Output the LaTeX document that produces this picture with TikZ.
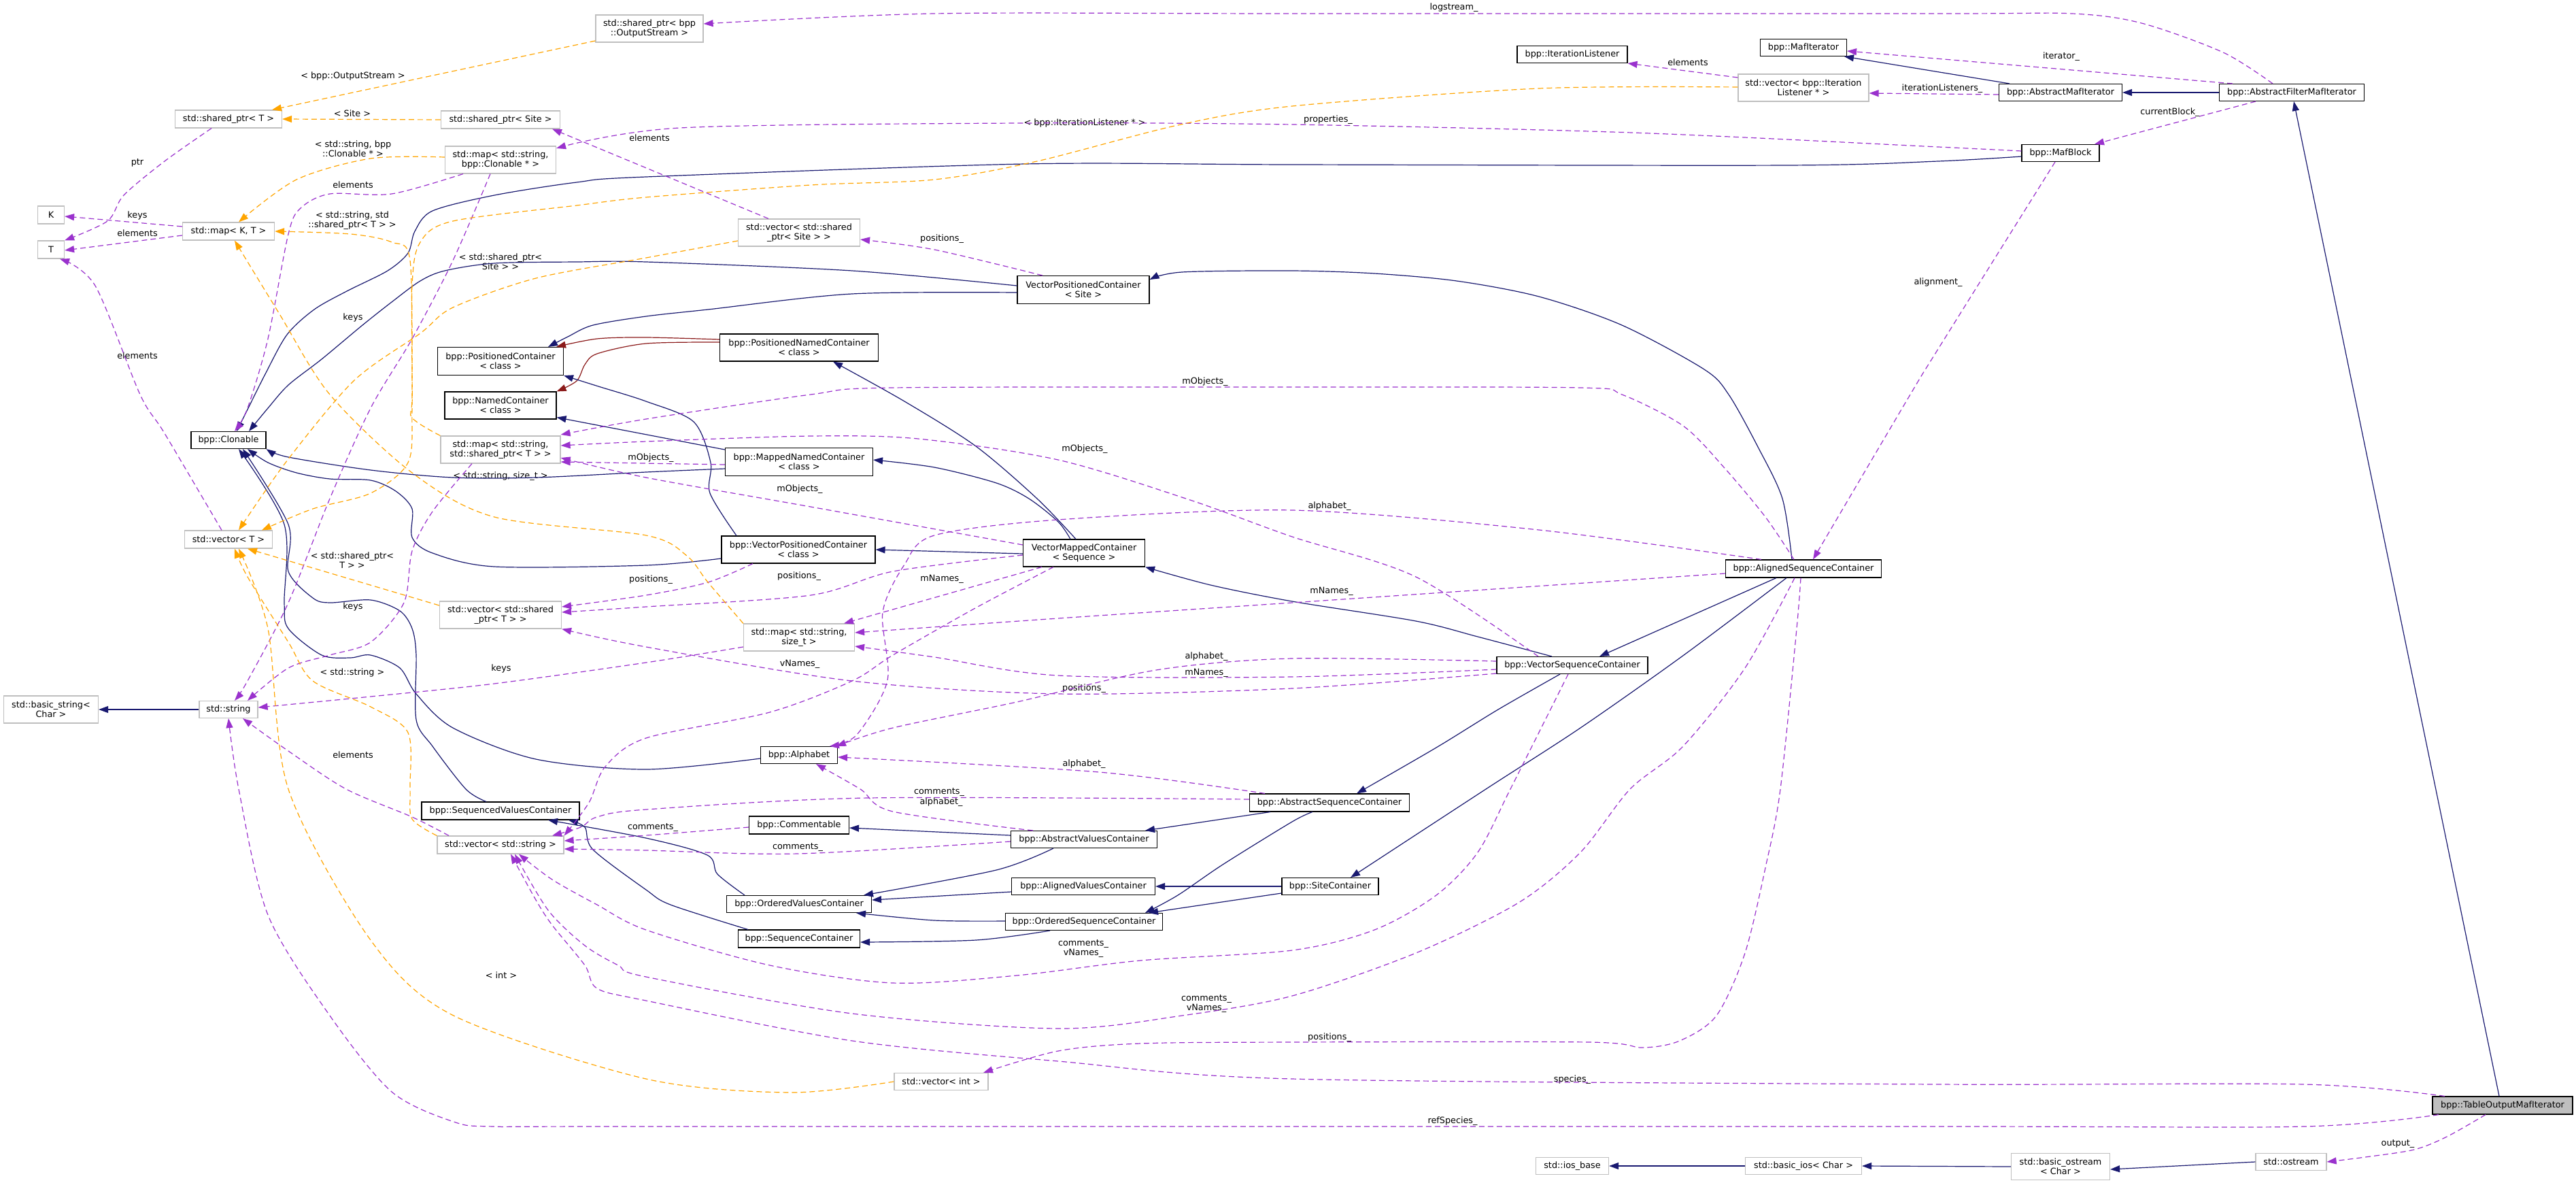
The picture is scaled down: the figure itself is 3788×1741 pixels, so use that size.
\documentclass[tikz,border=0pt]{standalone}
\usepackage{fontspec}
\setmainfont{DejaVu Sans}
\usetikzlibrary{arrows.meta}
\definecolor{navy}{HTML}{191970}
\definecolor{firebrick}{HTML}{8B1A1A}
\definecolor{orchid}{HTML}{9A32CD}
\definecolor{orng}{HTML}{FFA500}
\definecolor{gborder}{HTML}{BFBFBF}
\definecolor{hifill}{HTML}{BFBFBF}
\begin{document}
\begin{tikzpicture}[x=1pt,y=-1pt,
 every node/.style={font=\fontsize{12.8pt}{14pt}\selectfont, inner sep=0pt, align=center},
 box/.style={draw=black, line width=1.1pt, fill=white},
 gbox/.style={draw=gborder, line width=1.2pt, fill=white},
 lbl/.style={},
 tip/.style={-{Triangle[length=14pt,width=10pt]}},
 inh/.style={tip, draw=navy, line width=1.2pt},
 prot/.style={tip, draw=firebrick, line width=1.2pt},
 use/.style={tip, draw=orchid, line width=1.2pt, dash pattern=on 8pt off 5pt},
 tmpl/.style={tip, draw=orng, line width=1.2pt, dash pattern=on 8pt off 5pt},
 every plot/.style={smooth, tension=0.5}]
\useasboundingbox (0,0) rectangle (3788,1741);
\fill[white] (0,0) rectangle (3788,1741);

% ---------- nodes ----------
\node[gbox, minimum width=158pt, minimum height=40pt] (spOS) at (955,42) {std::shared\_ptr< bpp\\::OutputStream >};
\node[gbox, minimum width=157pt, minimum height=26pt] (spT) at (336,175) {std::shared\_ptr< T >};
\node[gbox, minimum width=175pt, minimum height=26pt] (spSite) at (736,176) {std::shared\_ptr< Site >};
\node[gbox, minimum width=163pt, minimum height=40pt] (mapSC) at (736,235) {std::map< std::string,\\bpp::Clonable * >};
\node[gbox, minimum width=39pt, minimum height=26pt] (K) at (75,316) {K};
\node[gbox, minimum width=39pt, minimum height=26pt] (T) at (75,367) {T};
\node[gbox, minimum width=135pt, minimum height=26pt] (mapKT) at (336,340) {std::map< K, T >};
\node[box, minimum width=185pt, minimum height=41pt] (posC) at (736,531) {bpp::PositionedContainer\\< class >};
\node[box, minimum width=164pt, minimum height=40pt] (namedC) at (736,596) {bpp::NamedContainer\\< class >};
\node[gbox, minimum width=179pt, minimum height=40pt] (vspSite) at (1175,342) {std::vector< std::shared\\\_ptr< Site > >};
\node[box, minimum width=194pt, minimum height=41pt] (vpcSite) at (1593,426) {VectorPositionedContainer\\< Site >};
\node[box, minimum width=233pt, minimum height=40pt] (pnc) at (1175,511) {bpp::PositionedNamedContainer\\< class >};
\node[box, minimum width=162pt, minimum height=25pt] (iterL) at (2312,80) {bpp::IterationListener};
\node[box, minimum width=127pt, minimum height=25pt] (mafIt) at (2652,70) {bpp::MafIterator};
\node[gbox, minimum width=192pt, minimum height=40pt] (vIL) at (2652,129) {std::vector< bpp::Iteration\\Listener * >};
\node[box, minimum width=181pt, minimum height=25pt] (absMaf) at (3030,136) {bpp::AbstractMafIterator};
\node[box, minimum width=213pt, minimum height=25pt] (afmi) at (3370,136) {bpp::AbstractFilterMafIterator};
\node[box, minimum width=114pt, minimum height=25pt] (mafBlock) at (3030,225) {bpp::MafBlock};
\node[box, minimum width=110pt, minimum height=25pt] (clonable) at (336,647) {bpp::Clonable};
\node[gbox, minimum width=176pt, minimum height=40pt] (mapSspT) at (736,661) {std::map< std::string,\\std::shared\_ptr< T > >};
\node[gbox, minimum width=129pt, minimum height=26pt] (vecT) at (336,793) {std::vector< T >};
\node[gbox, minimum width=179pt, minimum height=40pt] (vspT) at (736,904) {std::vector< std::shared\\\_ptr< T > >};
\node[gbox, minimum width=86pt, minimum height=25pt] (string) at (336,1043) {std::string};
\node[gbox, minimum width=139pt, minimum height=40pt] (basicStr) at (75,1043) {std::basic\_string<\\Char >};
\node[box, minimum width=217pt, minimum height=41pt] (mnc) at (1175,679) {bpp::MappedNamedContainer\\< class >};
\node[box, minimum width=226pt, minimum height=40pt] (vpcClass) at (1174,808) {bpp::VectorPositionedContainer\\< class >};
\node[box, minimum width=179pt, minimum height=40pt] (vmc) at (1594,813) {VectorMappedContainer\\< Sequence >};
\node[gbox, minimum width=163pt, minimum height=40pt] (mapSsize) at (1175,937) {std::map< std::string,\\size\_t >};
\node[box, minimum width=113pt, minimum height=25pt] (alphabet) at (1175,1110) {bpp::Alphabet};
\node[box, minimum width=229pt, minimum height=26pt] (asc) at (2652,836) {bpp::AlignedSequenceContainer};
\node[box, minimum width=222pt, minimum height=25pt] (vsc) at (2312,978) {bpp::VectorSequenceContainer};
\node[box, minimum width=235pt, minimum height=26pt] (absSeq) at (1955,1180) {bpp::AbstractSequenceContainer};
\node[box, minimum width=232pt, minimum height=26pt] (svc) at (736,1192) {bpp::SequencedValuesContainer};
\node[gbox, minimum width=186pt, minimum height=26pt] (vecStr) at (736,1242) {std::vector< std::string >};
\node[box, minimum width=147pt, minimum height=26pt] (commentable) at (1175,1213) {bpp::Commentable};
\node[box, minimum width=215pt, minimum height=25pt] (avc) at (1594,1234) {bpp::AbstractValuesContainer};
\node[box, minimum width=211pt, minimum height=25pt] (alignedVC) at (1593,1303) {bpp::AlignedValuesContainer};
\node[box, minimum width=213pt, minimum height=25pt] (ovc) at (1175,1329) {bpp::OrderedValuesContainer};
\node[box, minimum width=231pt, minimum height=25pt] (osc) at (1594,1355) {bpp::OrderedSequenceContainer};
\node[box, minimum width=179pt, minimum height=26pt] (seqC) at (1175,1380) {bpp::SequenceContainer};
\node[gbox, minimum width=138pt, minimum height=25pt] (vecInt) at (1384,1590) {std::vector< int >};
\node[box, minimum width=142pt, minimum height=25pt] (siteC) at (1956,1303) {bpp::SiteContainer};
\node[gbox, minimum width=107pt, minimum height=25pt] (iosBase) at (2312,1714) {std::ios\_base};
\node[gbox, minimum width=171pt, minimum height=25pt] (basicIos) at (2652,1714) {std::basic\_ios< Char >};
\node[box, fill=hifill, minimum width=206pt, minimum height=26pt] (table) at (3680,1625) {bpp::TableOutputMafIterator};
\node[gbox, minimum width=145pt, minimum height=39pt] (basicOs) at (3030,1715) {std::basic\_ostream\\< Char >};
\node[gbox, minimum width=104pt, minimum height=25pt] (ostream) at (3369,1708) {std::ostream};

% ---------- labels ----------
\node[lbl] (l1) at (2138,11) {logstream\_};
\node[lbl] (l2) at (519,112) {< bpp::OutputStream >};
\node[lbl] (l3) at (3031,83) {iterator\_};
\node[lbl] (l4) at (2482,92) {elements};
\node[lbl] (l5) at (2856,130) {iterationListeners\_};
\node[lbl] (l6) at (3191,165) {currentBlock\_};
\node[lbl] (l7) at (518,167) {< Site >};
\node[lbl] (l8) at (1595,181) {< bpp::IterationListener * >};
\node[lbl] (l9) at (1953,176) {properties\_};
\node[lbl] (l10) at (955,203) {elements};
\node[lbl] (l11) at (519,219) {< std::string, bpp\\::Clonable * >};
\node[lbl] (l12) at (202,239) {ptr};
\node[lbl] (l13) at (519,272) {elements};
\node[lbl] (l14) at (202,317) {keys};
\node[lbl] (l15) at (518,324) {< std::string, std\\::shared\_ptr< T > >};
\node[lbl] (l16) at (202,343) {elements};
\node[lbl] (l17) at (1385,351) {positions\_};
\node[lbl] (l18) at (736,385) {< std::shared\_ptr<\\Site > >};
\node[lbl] (l19) at (2850,415) {alignment\_};
\node[lbl] (l20) at (519,467) {keys};
\node[lbl] (l21) at (202,523) {elements};
\node[lbl] (l22) at (1772,561) {mObjects\_};
\node[lbl] (l23) at (1595,660) {mObjects\_};
\node[lbl] (l24) at (957,673) {mObjects\_};
\node[lbl] (l25) at (736,700) {< std::string, size\_t >};
\node[lbl] (l26) at (1176,719) {mObjects\_};
\node[lbl] (l27) at (1955,744) {alphabet\_};
\node[lbl] (l28) at (518,824) {< std::shared\_ptr<\\T > >};
\node[lbl] (l29) at (1175,847) {positions\_};
\node[lbl] (l30) at (1385,851) {mNames\_};
\node[lbl] (l31) at (957,852) {positions\_};
\node[lbl] (l32) at (1958,869) {mNames\_};
\node[lbl] (l33) at (519,892) {keys};
\node[lbl] (l34) at (1774,965) {alphabet\_};
\node[lbl] (l35) at (1176,976) {vNames\_};
\node[lbl] (l36) at (737,983) {keys};
\node[lbl] (l37) at (1774,989) {mNames\_};
\node[lbl] (l38) at (518,989) {< std::string >};
\node[lbl] (l39) at (1594,1012) {positions\_};
\node[lbl] (l40) at (519,1110) {elements};
\node[lbl] (l41) at (1594,1123) {alphabet\_};
\node[lbl] (l42) at (1381,1164) {comments\_};
\node[lbl] (l43) at (1384,1179) {alphabet\_};
\node[lbl] (l44) at (960,1216) {comments\_};
\node[lbl] (l45) at (1173,1245) {comments\_};
\node[lbl] (l46) at (1593,1394) {comments\_\\vNames\_};
\node[lbl] (l47) at (1774,1475) {comments\_\\vNames\_};
\node[lbl] (l48) at (737,1434) {< int >};
\node[lbl] (l49) at (1955,1525) {positions\_};
\node[lbl] (l50) at (2312,1587) {species\_};
\node[lbl] (l51) at (2136,1648) {refSpecies\_};
\node[lbl] (l52) at (3526,1681) {output\_};

% ---------- inheritance (navy) ----------
\draw[inh] ([xshift=-75pt]absMaf.north) -- ([xshift=60pt]mafIt.south);
\draw[inh] (afmi.west) -- (absMaf.east);
\draw[inh] ([xshift=-5pt]table.north) -- ([xshift=3pt]afmi.south);
\draw[inh] plot coordinates {([yshift=-5pt]mafBlock.west) (2850,237) (2627,243) (1900,242) (1507,241) (950,260) (848,268) (727,287) (636,310) (610,340) (600,372) (570,398) (510,428) (462,455) (422,492) (390,550) (365,600) ([xshift=12pt]clonable.north)};
\draw[inh] plot coordinates {([yshift=6pt]vpcSite.west) (1253,398) (950,385) (848,385) (727,387) (654,398) (618,413) (576,444) (533,478) (473,528) (424,566) (394,600) ([xshift=30pt]clonable.north)};
\draw[inh] plot coordinates {([yshift=-4pt]vpcSite.west) (1253,432) (1041,455) (950,465) (872,478) (835,495) ([xshift=70pt]posC.north)};
\draw[inh] plot coordinates {([xshift=-17pt]asc.north) (2621,733) (2585,657) (2542,580) (2506,543) (2385,478) (2263,436) (2142,413) (2021,402) (1900,398) (1738,400) ([yshift=15pt]vpcSite.east)};
\draw[prot] plot coordinates {([yshift=12pt]pnc.west) (950,496) (878,498) ([xshift=82pt]posC.north)};
\draw[prot] plot coordinates {([yshift=8pt]pnc.west) (950,505) (878,520) (860,536) (848,560) (namedC.north east)};
\draw[inh] plot coordinates {([xshift=-12pt]vmc.north) (1525,733) (1435,656) (1330,590) ([xshift=50pt]pnc.south)};
\draw[inh] ([yshift=18pt]mnc.west) -- ([yshift=3pt]namedC.south east);
\draw[inh] plot coordinates {([yshift=-10pt]mnc.west) (950,694) (788,702) (666,702) (545,691) (424,672) (clonable.south east)};
\draw[inh] plot coordinates {([xshift=-20pt]vmc.north) (1556,767) (1513,733) (1465,710) (1374,687) ([yshift=3pt]mnc.east)};
\draw[inh] ([yshift=-1pt]vmc.west) -- (vpcClass.east);
\draw[inh] plot coordinates {([xshift=-91pt]vpcClass.north) (1044,725) (1045,680) (1020,620) (950,590) (880,568) (posC.south east)};
\draw[inh] plot coordinates {([yshift=-13pt]vpcClass.west) (950,831) (727,833) (636,813) (606,790) (606,748) (582,722) (545,706) (485,704) (436,695) (394,680) ([xshift=28pt]clonable.south)};
\draw[inh] plot coordinates {([xshift=-30pt]vsc.north) (2173,936) (2082,913) (1900,884) (1780,860) (vmc.south east)};
\draw[inh] ([xshift=-40pt]asc.south) -- ([xshift=40pt]vsc.north);
\draw[inh] plot coordinates {([xshift=-25pt]asc.south) (2476,963) (2324,1070) (2185,1160) ([xshift=30pt]siteC.north)};
\draw[inh] plot coordinates {([xshift=-18pt]vsc.south) (2203,1043) (2112,1099) ([xshift=40pt]absSeq.north)};
\draw[inh] ([xshift=-87pt]absSeq.south) -- ([xshift=90pt]avc.north);
\draw[inh] plot coordinates {([xshift=-25pt]absSeq.south) (1900,1208) (1798,1271) (1732,1316) ([xshift=90pt]osc.north)};
\draw[inh] (siteC.west) -- (alignedVC.east);
\draw[inh] ([yshift=-10pt]siteC.west) -- ([xshift=95pt]osc.north);
\draw[inh] ([yshift=6pt]avc.west) -- ([yshift=-4pt]commentable.east);
\draw[inh] plot coordinates {([xshift=-45pt]avc.south) (1465,1279) ([xshift=95pt]ovc.north)};
\draw[inh] ([yshift=-8pt]alignedVC.west) -- ([yshift=6pt]ovc.east);
\draw[inh] plot coordinates {([yshift=1pt]osc.west) (1374,1353) ([xshift=84pt]ovc.south)};
\draw[inh] plot coordinates {([xshift=-50pt]osc.south) (1435,1382) ([yshift=-5pt]seqC.east)};
\draw[inh] plot coordinates {([xshift=-75pt]seqC.north) (986,1330) (950,1308) (872,1249) (860,1216) ([xshift=100pt]svc.south)};
\draw[inh] plot coordinates {([xshift=-80pt]ovc.north) (1055,1285) (1040,1257) (950,1232) ([xshift=70pt]svc.south)};
\draw[inh] plot coordinates {([xshift=-21pt]svc.north) (685,1160) (636,1097) (612,1058) (612,963) (606,924) (588,898) (545,882) (485,886) (460,879) (424,840) (424,771) ([xshift=21pt]clonable.south)};
\draw[inh] plot coordinates {([yshift=-5pt]alphabet.west) (950,1131) (788,1116) (666,1070) (612,1020) (588,982) (545,963) (515,967) (473,963) (424,924) (418,886) (418,771) ([xshift=15pt]clonable.south)};
\draw[inh] (string.west) -- (basicStr.east);
\draw[inh] (basicIos.west) -- (iosBase.east);
\draw[inh] (basicOs.west) -- (basicIos.east);
\draw[inh] (ostream.west) -- ([yshift=-4pt]basicOs.east);

% ---------- usage (purple dashed) ----------
\draw[use] plot coordinates {([xshift=-28pt]afmi.north) (3269,77) (3149,34) (3047,20) (2850,20) (1900,20) (1374,20) ([yshift=7pt]spOS.east)};
\draw[use] ([xshift=-87pt]afmi.north) -- ([yshift=-5pt]mafIt.east);
\draw[use] ([xshift=-53pt]afmi.south) -- ([xshift=50pt]mafBlock.north);
\draw[use] ([yshift=-3pt]absMaf.west) -- ([yshift=-8pt]vIL.east);
\draw[use] ([yshift=15pt]vIL.west) -- (iterL.south east);
\draw[use] plot coordinates {([yshift=3pt]mafBlock.west) (2850,216) (2400,195) (1900,183) (1500,181) (1000,188) ([yshift=17pt]mapSC.east)};
\draw[use] plot coordinates {([xshift=-8pt]mafBlock.south) (2850,513) (2809,580) ([xshift=14pt]asc.north)};
\draw[use] ([xshift=-45pt]vspSite.north) -- ([xshift=76pt]spSite.south);
\draw[use] plot coordinates {([xshift=-25pt]spT.south) (242,237) (182,287) (158,325) (T.north east)};
\draw[use] ([yshift=7pt]mapKT.west) -- ([yshift=-2pt]K.east);
\draw[use] ([yshift=-6pt]mapKT.west) -- ([yshift=-1pt]T.east);
\draw[use] plot coordinates {([xshift=-10pt]vecT.north) (242,637) (206,580) (140,420) ([xshift=13pt]T.south)};
\draw[use] plot coordinates {([xshift=-55pt]mapSC.south) (576,285) (485,285) (442,306) (424,344) (394,498) (364,600) ([xshift=9pt]clonable.north)};
\draw[use] plot coordinates {([xshift=-15pt]mapSC.south) (666,383) (606,498) (545,600) (485,733) (424,886) (364,1001) ([xshift=9pt]string.north)};
\draw[use] plot coordinates {([xshift=-60pt]vpcSite.north) (1374,367) ([yshift=-10pt]vspSite.east)};
\draw[use] plot coordinates {([xshift=-14pt]asc.north) (2596,760) (2535,687) (2475,626) (2385,580) (2324,570) (1900,569) (1313,570) (1192,580) (950,616) ([yshift=22pt]mapSspT.east)};
\draw[use] plot coordinates {([xshift=-50pt]vsc.north) (2082,848) (1900,789) (1750,735) (1556,676) (1350,645) (1192,641) (950,649) ([yshift=6pt]mapSspT.east)};
\draw[use] ([yshift=-4pt]mnc.west) -- ([yshift=-18pt]mapSspT.east);
\draw[use] plot coordinates {([yshift=12pt]vmc.west) (1192,745) (950,702) ([yshift=-12pt]mapSspT.east)};
\draw[use] plot coordinates {([xshift=-67pt]vpcClass.south) (1041,856) (950,875) ([yshift=12pt]vspT.east)};
\draw[use] plot coordinates {([yshift=-3pt]vmc.west) (1313,840) (1192,875) (950,892) ([yshift=4pt]vspT.east)};
\draw[use] ([xshift=-62pt]vmc.south) -- ([xshift=66pt]mapSsize.north);
\draw[use] plot coordinates {([yshift=-12pt]vsc.west) (1900,1012) (1556,1020) (1253,1001) (950,951) (vspT.south east)};
\draw[use] plot coordinates {([yshift=-7pt]asc.west) (1900,886) (1556,909) ([yshift=7pt]mapSsize.east)};
\draw[use] plot coordinates {([yshift=-6pt]vsc.west) (1900,995) (1556,993) (1374,966) ([yshift=-13pt]mapSsize.east)};
\draw[use] plot coordinates {([yshift=6pt]vsc.west) (1900,968) (1700,985) (1495,1032) (1313,1070) ([xshift=55pt]alphabet.north)};
\draw[use] plot coordinates {([xshift=-62pt]asc.north) (2263,779) (1900,750) (1556,764) (1374,787) (1330,830) (1298,900) (1305,1000) (1260,1080) ([xshift=45pt]alphabet.north)};
\draw[use] plot coordinates {([xshift=-95pt]absSeq.north) (1616,1135) ([yshift=-3pt]alphabet.east)};
\draw[use] plot coordinates {([xshift=-75pt]avc.north) (1313,1193) (1265,1160) ([xshift=25pt]alphabet.south)};
\draw[use] plot coordinates {([yshift=5pt]absSeq.west) (1277,1173) (950,1190) (878,1201) (854,1216) ([xshift=76pt]vecStr.north)};
\draw[use] plot coordinates {([yshift=-3pt]commentable.west) (950,1228) ([yshift=6pt]vecStr.east)};
\draw[use] plot coordinates {([yshift=-3pt]avc.west) (1173,1255) (950,1250) ([yshift=-6pt]vecStr.east)};
\draw[use] plot coordinates {([xshift=-45pt]vmc.south) (1434,894) (1313,963) (1253,1001) (1132,1047) (950,1085) (890,1127) (866,1180) (vecStr.north east)};
\draw[use] plot coordinates {([xshift=-6pt]vsc.south) (2221,1160) (2173,1253) (2112,1316) (2021,1367) (1900,1397) (1677,1412) (1495,1434) (1313,1445) (1132,1419) (950,1367) (878,1330) (812,1293) ([xshift=27pt]vecStr.south)};
\draw[use] plot coordinates {([xshift=-13pt]asc.south) (2566,982) (2475,1097) (2397,1160) (2324,1253) (2233,1327) (2082,1401) (1900,1464) (1738,1493) (1556,1512) (1253,1490) (950,1436) (909,1419) (860,1390) (806,1338) ([xshift=21pt]vecStr.south)};
\draw[use] plot coordinates {([xshift=-85pt]table.north) (3388,1594) (2850,1594) (1900,1586) (1556,1560) (1253,1530) (950,1471) (878,1453) (860,1419) (812,1360) (788,1323) ([xshift=15pt]vecStr.south)};
\draw[use] plot coordinates {([xshift=-94pt]table.south) (3388,1656) (2850,1656) (950,1656) (727,1656) (667,1649) (576,1605) (485,1493) (394,1345) (351,1160) (string.south)};
\draw[use] plot coordinates {([xshift=-25pt]table.south) (3598,1671) (3550,1690) (3478,1701) (ostream.east)};
\draw[use] plot coordinates {([xshift=-4pt]asc.south) (2642,924) (2618,1160) (2597,1271) (2566,1401) (2524,1493) (2470,1530) (2415,1540) (2336,1532) (1900,1532) (1677,1534) (1556,1545) ([xshift=62pt]vecInt.north)};
\draw[use] plot coordinates {([xshift=-76pt]vecStr.north) (606,1201) (509,1160) (424,1104) ([xshift=21pt]string.south)};
\draw[use] plot coordinates {([xshift=-42pt]mapSspT.south) (636,752) (606,810) (594,886) (545,944) (485,963) (424,982) ([xshift=28pt]string.north)};
\draw[use] plot coordinates {([yshift=-14pt]mapSsize.west) (950,974) (727,1005) (545,1024) ([yshift=3pt]string.east)};

% ---------- template instances (orange dashed) ----------
\draw[tmpl] ([yshift=-18pt]spOS.west) -- ([xshift=64pt]spT.north);
\draw[tmpl] (spSite.west) -- (spT.east);
\draw[tmpl] plot coordinates {([yshift=4pt]mapSC.west) (545,233) (436,264) ([xshift=15pt]mapKT.north)};
\draw[tmpl] plot coordinates {(mapSspT.north west) (606,614) (606,580) (603,383) (576,356) (515,344) (mapKT.east)};
\draw[tmpl] plot coordinates {(mapSsize.north west) (1041,856) (1010,817) (950,787) (727,760) (606,695) (485,580) (410,460) ([xshift=9pt]mapKT.south)};
\draw[tmpl] plot coordinates {([yshift=-12pt]vspSite.west) (950,379) (788,409) (666,452) (618,490) (520,560) (420,680) ([xshift=15pt]vecT.north)};
\draw[tmpl] plot coordinates {([yshift=1pt]vIL.west) (2263,130) (1900,156) (1732,184) (1525,237) (1374,264) (1192,272) (950,290) (848,302) (666,325) (618,356) (606,420) (606,600) (600,680) (545,725) (460,748) ([xshift=49pt]vecT.north)};
\draw[tmpl] ([yshift=14pt]vspT.west) -- ([xshift=28pt]vecT.south);
\draw[tmpl] plot coordinates {(vecStr.north west) (606,1204) (603,1160) (600,1077) (545,1039) (460,1001) (424,944) (364,848) ([xshift=9pt]vecT.south)};
\draw[tmpl] plot coordinates {(vecInt.west) (1162,1606) (950,1586) (667,1493) (545,1382) (424,1160) (394,924) ([xshift=15pt]vecT.south)};
\end{tikzpicture}
\end{document}
